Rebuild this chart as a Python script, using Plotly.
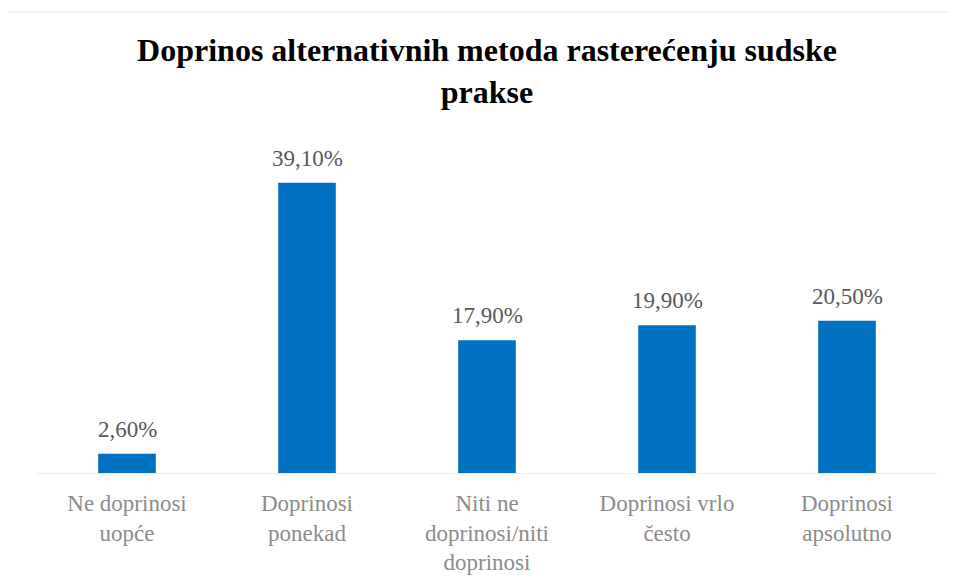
import plotly.graph_objects as go

categories = ["Ne doprinosi<br>uopće", "Doprinosi<br>ponekad", "Niti ne<br>doprinosi/niti<br>doprinosi",
              "Doprinosi vrlo<br>često", "Doprinosi<br>apsolutno"]
values = [2.6, 39.1, 17.9, 19.9, 20.5]
labels = ["2,60%", "39,10%", "17,90%", "19,90%", "20,50%"]

OFF = 8  # page body margin
W, H = 957 - OFF, 577 - OFF
# target page pixel positions
PL, PR, PT, PB = 37, 937, 139, 473
L, R, T, B = PL - OFF, W - (PR - OFF), PT - OFF, H - (PB - OFF)
pw, ph = W - L - R, H - T - B
SERIF = "Liberation Serif"

fig = go.Figure(go.Bar(
    x=categories, y=values,
    marker=dict(color="#0070C0", line=dict(width=0)), width=0.32, cliponaxis=False,
))

for c, v, t in zip(categories, values, labels):
    fig.add_annotation(x=c, y=v, text=t, showarrow=False, yanchor="bottom", yshift=10,
                       font=dict(family=SERIF, size=23, color="#595959"))

def px2x(p):
    return (p - OFF - L) / pw

def px2y(p):
    return (PB - p) / ph

fig.add_shape(type="rect", xref="paper", yref="paper",
              x0=px2x(4), x1=px2x(970), y0=px2y(600), y1=px2y(12),
              line=dict(color="#ececec", width=1), fillcolor="rgba(0,0,0,0)", layer="below")

fig.update_layout(
    width=W, height=H, margin=dict(l=L, r=R, t=T, b=B, autoexpand=False),
    paper_bgcolor="white", plot_bgcolor="white", showlegend=False,
    title=dict(text="Doprinos alternativnih metoda rasterećenju sudske<br>prakse",
               x=(487 - OFF) / W, xanchor="center", y=1 - (61 - OFF) / H, yanchor="top",
               font=dict(family=SERIF, size=32, color="black", weight="bold")),
    xaxis=dict(showline=True, linecolor="#ececec", linewidth=1, ticks="", showgrid=False,
               tickfont=dict(family=SERIF, size=23, color="#8c8c8c"),
               ticklabelstandoff=9, automargin=False),
    yaxis=dict(range=[0, 45], visible=False, showgrid=False, zeroline=False, automargin=False),
)

fig.write_html("out.html")
